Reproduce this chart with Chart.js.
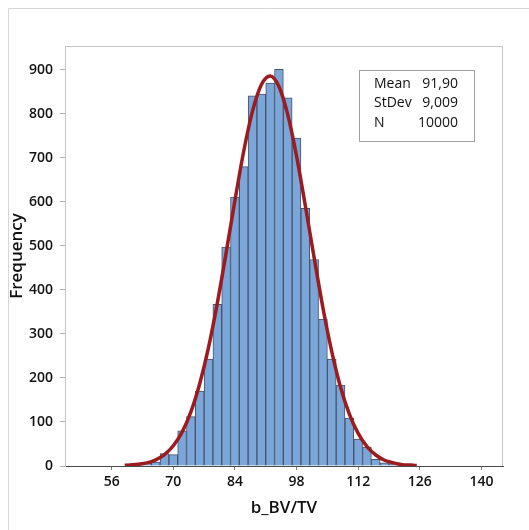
<!DOCTYPE html>
<html lang="en">
<head>
  <meta charset="UTF-8">
  <title>Histogram of b_BV/TV</title>
  <script src="https://cdn.jsdelivr.net/npm/chart.js"></script>
  <style>
    html, body { margin: 0; padding: 0; background: #fff; }
    #wrap { width: 529px; height: 530px; position: relative; }
  </style>
</head>
<body>
<div id="wrap"><canvas id="histChart"></canvas></div>
<script>
  // histogram bins (centre of each 2-unit bin) and counts
  const binCenters = [60, 62, 64, 66, 68, 70, 72, 74, 76, 78, 80, 82, 84, 86, 88, 90,
                      92, 94, 96, 98, 100, 102, 104, 106, 108, 110, 112, 114, 116, 118, 120, 122];
  const frequencies = [5, 4, 7, 9, 28, 26, 80, 112, 170, 243, 367, 497, 611, 680, 841, 845,
                       870, 901, 836, 745, 585, 469, 334, 243, 184, 109, 61, 43, 15, 7, 5, 2];

  // fitted normal curve
  const curveX = [59, 60, 62, 64, 66, 68, 70, 72, 74, 76, 78, 80, 82, 84, 86, 88, 90, 92,
                  94, 96, 98, 100, 102, 104, 106, 108, 110, 112, 114, 116, 118, 120, 122, 124, 125.3];
  const curveY = [1, 2, 4, 7, 14, 26, 46, 77, 123, 187, 269, 370, 484, 603, 715, 806, 866, 886,
                  862, 798, 704, 591, 473, 359, 260, 179, 118, 74, 44, 25, 13, 7, 3, 2, 1];

  const xTicks = [56, 70, 84, 98, 112, 126, 140];
  const yTicks = [0, 100, 200, 300, 400, 500, 600, 700, 800, 900];

  const statLabels = ['Mean', 'StDev', 'N'];
  const statValues = ['91,90', '9,009', '10000'];

  const fontFamily = '"Open Sans", "Noto Sans", sans-serif';

  const framePlugin = {
    id: 'frame',
    beforeDraw(chart) {
      const ctx = chart.ctx;
      const a = chart.chartArea;
      ctx.save();
      ctx.fillStyle = '#fff';
      ctx.fillRect(0, 0, chart.width, chart.height);
      // outer graph frame
      ctx.strokeStyle = '#d6d6d6';
      ctx.lineWidth = 1;
      ctx.beginPath();
      ctx.moveTo(8.5, chart.height);
      ctx.lineTo(8.5, 8.5);
      ctx.lineTo(chart.width, 8.5);
      ctx.stroke();
      // plot area top / right
      ctx.strokeStyle = '#c4c4c4';
      ctx.beginPath();
      ctx.moveTo(a.left, a.top + 0.5);
      ctx.lineTo(a.right - 0.5, a.top + 0.5);
      ctx.lineTo(a.right - 0.5, a.bottom);
      ctx.stroke();
      ctx.restore();
    },
    afterDraw(chart) {
      const ctx = chart.ctx;
      ctx.save();
      ctx.strokeStyle = '#a0a0a0';
      ctx.lineWidth = 1;
      ctx.strokeRect(359.5, 70.5, 115, 71);
      ctx.fillStyle = '#111';
      ctx.font = '14px ' + fontFamily;
      ctx.textBaseline = 'middle';
      statLabels.forEach((lab, i) => {
        const y = 84 + i * 19.5;
        ctx.textAlign = 'left';
        ctx.fillText(lab, 374, y);
        ctx.textAlign = 'right';
        ctx.fillText(statValues[i], 458, y);
      });
      ctx.restore();
    }
  };

  const ctx = document.getElementById('histChart').getContext('2d');
  new Chart(ctx, {
    type: 'bar',
    data: {
      datasets: [
        {
          type: 'line',
          label: 'Normal fit',
          data: curveX.map((x, i) => ({x: x, y: curveY[i]})),
          borderColor: '#9b1b1e',
          borderWidth: 3.5,
          pointRadius: 0,
          cubicInterpolationMode: 'monotone',
          fill: false,
          order: 0
        },
        {
          type: 'bar',
          label: 'Frequency',
          data: binCenters.map((x, i) => ({x: x, y: frequencies[i]})),
          backgroundColor: '#7ba6da',
          borderColor: '#46536a',
          borderWidth: 1,
          barPercentage: 1,
          categoryPercentage: 1,
          order: 1
        }
      ]
    },
    options: {
      responsive: true,
      maintainAspectRatio: false,
      animation: false,
      events: [],
      layout: { padding: { top: 46, right: 26, left: 0, bottom: 0 } },
      plugins: {
        legend: { display: false },
        tooltip: { enabled: false }
      },
      scales: {
        x: {
          type: 'linear',
          offset: false,
          min: 45.4,
          max: 144.9,
          afterFit(scale) { scale.height = 64; },
          afterBuildTicks(scale) { scale.ticks = xTicks.map(v => ({value: v})); },
          grid: { offset: false, drawOnChartArea: false, drawTicks: true, tickLength: 4, color: '#808080' },
          border: { display: true, color: '#4a4a4a', width: 1 },
          ticks: {
            padding: 4,
            color: '#111',
            font: { family: fontFamily, size: 14, weight: '600' }
          },
          title: {
            display: true,
            text: 'b_BV/TV',
            color: '#111',
            font: { family: fontFamily, size: 17, weight: '600' },
            padding: { top: 0, bottom: 12 }
          }
        },
        y: {
          min: 0,
          max: 954,
          afterFit(scale) { scale.width = 65; },
          afterBuildTicks(scale) { scale.ticks = yTicks.map(v => ({value: v})); },
          grid: { drawOnChartArea: false, drawTicks: true, tickLength: 5, color: '#b0b0b0' },
          border: { display: true, color: '#c4c4c4', width: 1 },
          ticks: {
            padding: 7,
            color: '#111',
            font: { family: fontFamily, size: 14, weight: '600' }
          },
          title: {
            display: true,
            text: 'Frequency',
            color: '#111',
            font: { family: fontFamily, size: 17, weight: '600' },
            padding: { top: 7, bottom: 0 }
          }
        }
      }
    },
    plugins: [framePlugin]
  });
</script>
</body>
</html>
